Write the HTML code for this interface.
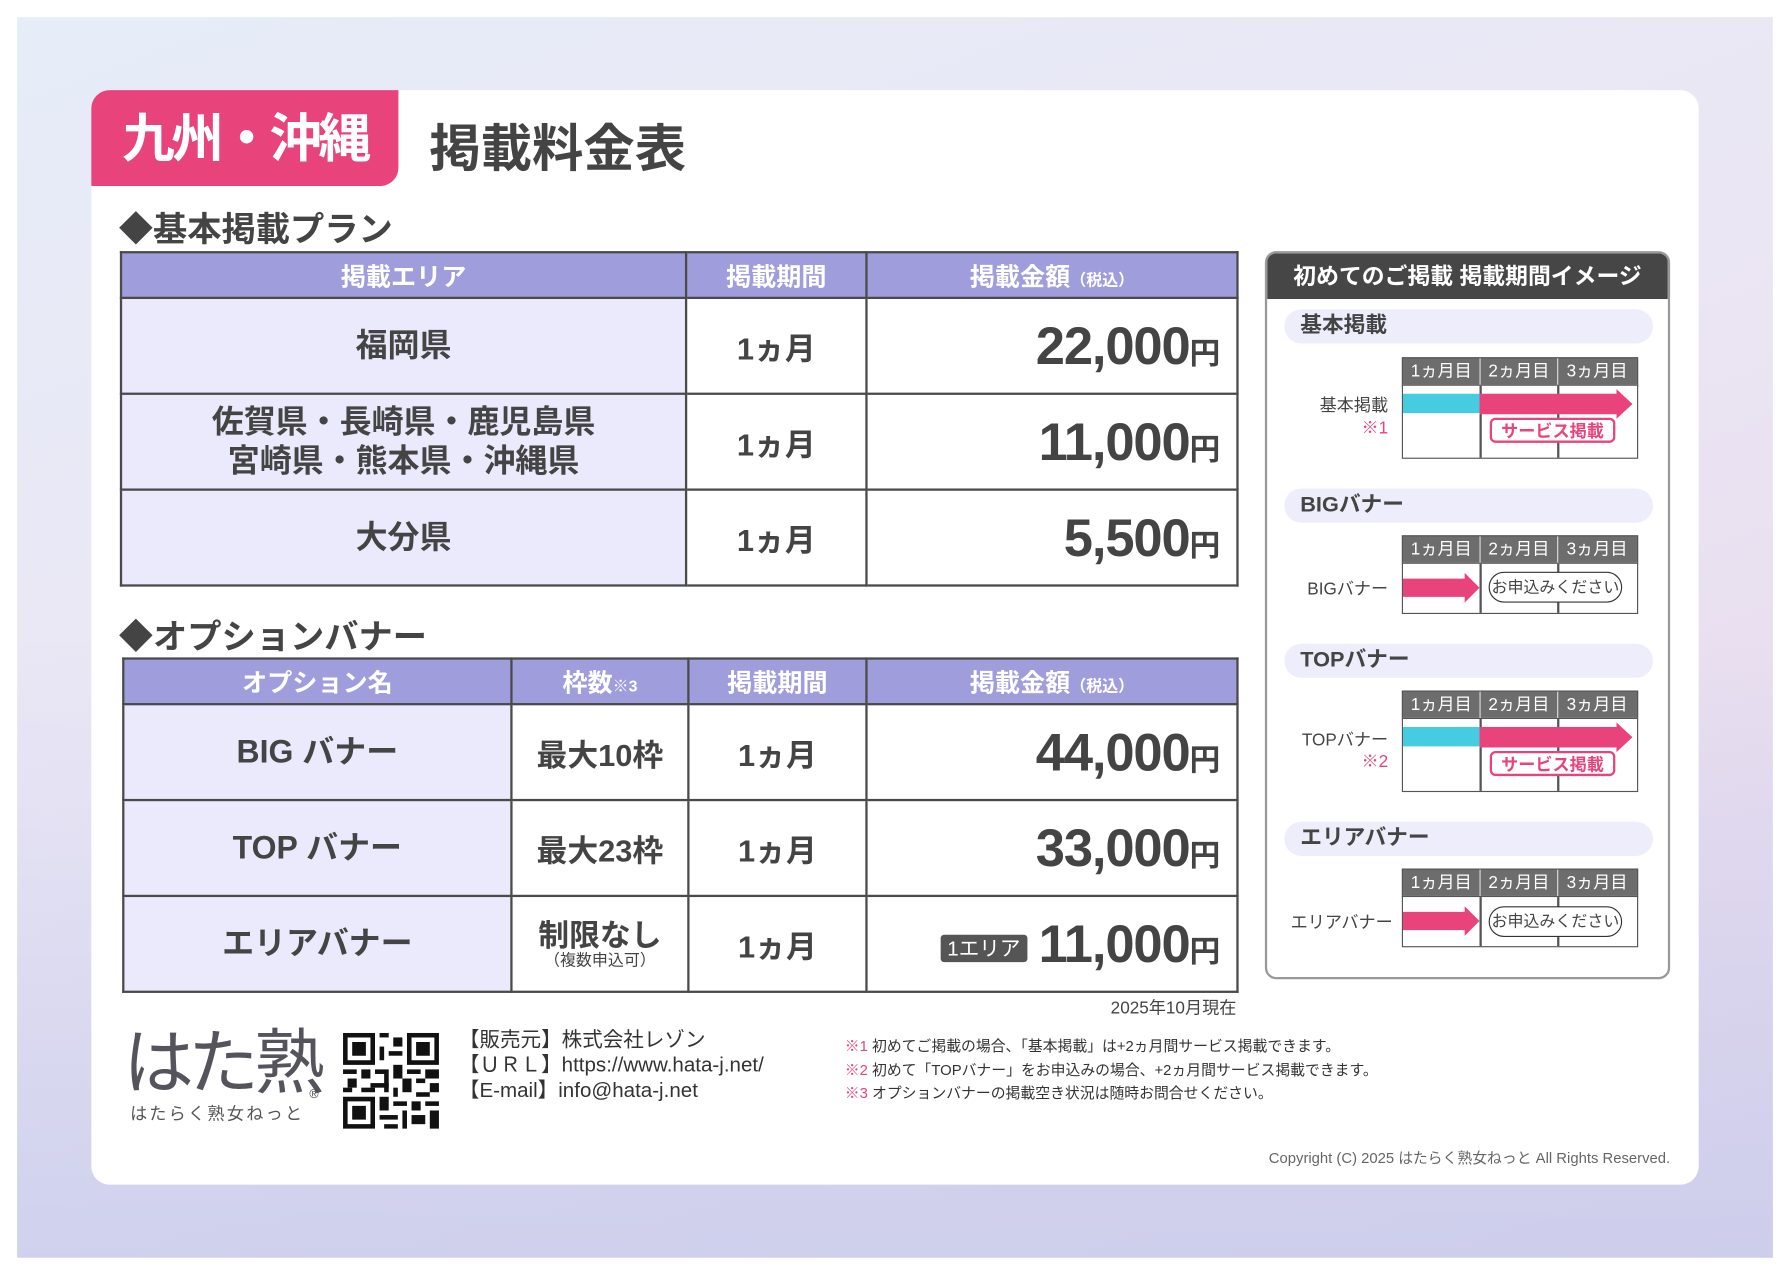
<!DOCTYPE html>
<html><head><meta charset="utf-8"><style>
html,body{margin:0;padding:0;width:1790px;height:1276px;overflow:hidden;background:#fff}
#w{position:absolute;left:0;top:0;width:1568px;height:1118px;transform:scale(1.14158,1.1413);transform-origin:0 0;font-family:"Liberation Sans","Noto Sans CJK JP",sans-serif;color:#444}
.a{position:absolute}
.bg{left:15px;top:15px;width:1538px;height:1087px;background:linear-gradient(160deg,#e6ecf8 0%,#ebe6f4 45%,#e8dcee 75%,#e3d6ec 100%)}
.bg2{left:15px;top:15px;width:1538px;height:1087px;background:linear-gradient(0deg,rgba(190,200,236,.6) 0%,rgba(220,224,245,0) 50%)}
.card{left:80px;top:79px;width:1408px;height:959px;background:#fff;border-radius:16px}
.tab{left:80px;top:79px;width:269px;height:84px;background:#e8437a;border-radius:16px 0 16px 0;color:#fff;font-weight:bold;font-size:46px;line-height:84px;text-align:center;letter-spacing:-3px}
.b{font-weight:bold}
table{position:absolute;border-collapse:collapse;table-layout:fixed}
td{border:2px solid #4a4a4a;text-align:center;padding:0;font-weight:bold;color:#444}
tr.h td{background:#a09ddd;color:#fff;font-size:22px;height:38px;border-color:#4a4a4a}
td.l{background:#ebe9fc;font-size:28px;line-height:34px}
td.p{font-size:27px}
td.m{text-align:right;padding-right:14px;font-size:46px;letter-spacing:-1px}
td.m span{font-size:27px;letter-spacing:0}
small{font-size:14px}
.pill{left:1125px;width:323px;height:30px;background:#eeedfc;border-radius:15px;font-weight:bold;font-size:19px;line-height:30px;text-indent:14px}
.gh{width:205px;height:24px;background:#6d6d6d;border:1px solid #555}
.gh div{position:absolute;top:0;width:68px;height:24px;color:#fff;font-size:15px;line-height:24px;text-align:center;border-right:1px solid #ddd;box-sizing:border-box}
.gb{border:1.5px solid #555;background:#fff;box-sizing:border-box;width:207px}
.vl{position:absolute;top:0;bottom:0;width:1.5px;background:#555}
.lab{font-size:15px;text-align:right;width:120px}
.svc{width:110px;height:22px;border:2px solid #e8437a;border-radius:5px;color:#e8437a;font-size:15px;line-height:22px;text-align:center;box-sizing:border-box;background:#fff;font-weight:bold}
.ap{width:117px;height:27px;border:1.5px solid #333;border-radius:14px;font-size:14px;line-height:24px;text-align:center;box-sizing:border-box;background:#fff}
.pk{color:#e8437a}
</style></head><body><div id="w">
<div class="a bg"></div><div class="a bg2"></div>
<div class="a card"></div>
<div class="a tab">九州・沖縄</div>
<div class="a b" style="left:376px;top:94px;font-size:45px;color:#444">掲載料金表</div>
<div class="a" style="left:104px;top:176px;font-size:30px;font-weight:bold;color:#444">◆基本掲載プラン</div>
<table style="left:105px;top:220px;width:978px">
<colgroup><col style="width:495px"><col style="width:158px"><col style="width:325px"></colgroup>
<tr class="h"><td>掲載エリア</td><td>掲載期間</td><td>掲載金額<small>（税込）</small></td></tr>
<tr style="height:84px"><td class="l">福岡県</td><td class="p">1ヵ月</td><td class="m">22,000<span>円</span></td></tr>
<tr style="height:84px"><td class="l">佐賀県・長崎県・鹿児島県<br>宮崎県・熊本県・沖縄県</td><td class="p">1ヵ月</td><td class="m">11,000<span>円</span></td></tr>
<tr style="height:84px"><td class="l">大分県</td><td class="p">1ヵ月</td><td class="m">5,500<span>円</span></td></tr>
</table>
<div class="a" style="left:104px;top:533px;font-size:30px;font-weight:bold;color:#444">◆オプションバナー</div>
<table style="left:107px;top:576px;width:976px">
<colgroup><col style="width:340px"><col style="width:155px"><col style="width:156px"><col style="width:325px"></colgroup>
<tr class="h"><td>オプション名</td><td>枠数<small>※3</small></td><td>掲載期間</td><td>掲載金額<small>（税込）</small></td></tr>
<tr style="height:84px"><td class="l">BIG バナー</td><td class="p">最大10枠</td><td class="p">1ヵ月</td><td class="m">44,000<span>円</span></td></tr>
<tr style="height:84px"><td class="l">TOP バナー</td><td class="p">最大23枠</td><td class="p">1ヵ月</td><td class="m">33,000<span>円</span></td></tr>
<tr style="height:84px"><td class="l">エリアバナー</td><td class="p" style="line-height:28px">制限なし<br><span style="font-size:14px;font-weight:normal;display:block;line-height:14px">（複数申込可）</span></td><td class="p">1ヵ月</td><td class="m"><b style="display:inline-block;background:#555;color:#fff;font-size:18px;line-height:24px;padding:0 6px;border-radius:3px;vertical-align:middle;margin-right:10px;font-weight:normal;letter-spacing:0">1エリア</b>11,000<span>円</span></td></tr>
</table>
<div class="a" style="left:900px;top:872px;width:183px;text-align:right;font-size:15px">2025年10月現在</div>
<div class="a" style="left:108px;top:893px;font-size:62px;color:#55545c;letter-spacing:-4px;line-height:80px">はた熟</div>
<div class="a" style="left:114px;top:965px;font-size:15px;color:#555;letter-spacing:2px">はたらく熟女ねっと</div>
<div class="a" style="left:271px;top:953px;font-size:11px">®</div>
<svg class="a" style="left:300px;top:905px" width="85" height="84" viewBox="0 0 21 21">
<rect width="21" height="21" fill="#fff"/>
<g fill="#111">
<path d="M0 0h7v7h-7zM1 1v5h5v-5zM2 2h3v3h-3z" fill-rule="evenodd"/>
<path d="M14 0h7v7h-7zM15 1v5h5v-5zM16 2h3v3h-3z" fill-rule="evenodd"/>
<path d="M0 14h7v7h-7zM1 15v5h5v-5zM2 16h3v3h-3z" fill-rule="evenodd"/>
<rect x="8" y="0" width="2" height="1"/><rect x="11" y="1" width="2" height="2"/><rect x="8" y="3" width="1" height="3"/><rect x="10" y="4" width="3" height="1"/>
<rect x="0" y="8" width="3" height="1"/><rect x="4" y="8" width="2" height="2"/><rect x="7" y="8" width="3" height="1"/><rect x="11" y="7" width="2" height="3"/><rect x="14" y="8" width="3" height="1"/><rect x="18" y="8" width="3" height="2"/>
<rect x="1" y="10" width="2" height="2"/><rect x="6" y="11" width="4" height="1"/><rect x="9" y="9" width="1" height="4"/><rect x="13" y="10" width="2" height="3"/><rect x="16" y="10" width="2" height="1"/><rect x="19" y="11" width="2" height="2"/>
<rect x="0" y="12" width="2" height="1"/><rect x="4" y="12" width="3" height="1"/><rect x="11" y="12" width="1" height="2"/><rect x="16" y="13" width="3" height="1"/>
<rect x="8" y="14" width="2" height="3"/><rect x="11" y="15" width="3" height="1"/><rect x="15" y="15" width="2" height="2"/><rect x="18" y="15" width="3" height="1"/>
<rect x="8" y="18" width="4" height="1"/><rect x="13" y="17" width="1" height="4"/><rect x="15" y="18" width="3" height="2"/><rect x="19" y="17" width="2" height="4"/><rect x="9" y="20" width="3" height="1"/>
</g></svg>
<div class="a" style="left:402px;top:900px;font-size:18px;line-height:22px;color:#333">【販売元】株式会社レゾン<br>【ＵＲＬ】https://www.hata-j.net/<br>【E-mail】info@hata-j.net</div>
<div class="a" style="left:740px;top:907px;font-size:13px;line-height:20.5px;color:#333"><span class="pk">※1</span> 初めてご掲載の場合、「基本掲載」は+2ヵ月間サービス掲載できます。<br><span class="pk">※2</span> 初めて「TOPバナー」をお申込みの場合、+2ヵ月間サービス掲載できます。<br><span class="pk">※3</span> オプションバナーの掲載空き状況は随時お問合せください。</div>
<div class="a" style="left:1000px;top:1004px;font-size:13px;color:#666;width:463px;text-align:right">Copyright (C) 2025 はたらく熟女ねっと All Rights Reserved.</div>

<div class="a" style="left:1108px;top:220px;width:355px;height:638px;border:2px solid #999;border-radius:10px;box-sizing:border-box;background:#fff;overflow:hidden">
<div style="height:40px;background:#464646;color:#fff;font-size:20px;line-height:42px;text-align:center;font-weight:bold">初めてのご掲載 掲載期間イメージ</div></div>
<div class="a pill" style="top:271px">基本掲載</div>
<div class="a pill" style="top:428px">BIGバナー</div>
<div class="a pill" style="top:564px">TOPバナー</div>
<div class="a pill" style="top:720px">エリアバナー</div>

<div class="a gh" style="left:1228px;top:313px"><div style="left:0">1ヵ月目</div><div style="left:68px">2ヵ月目</div><div style="left:136px;border:0">3ヵ月目</div></div>
<div class="a gb" style="left:1228px;top:337px;height:65px"><div class="vl" style="left:67px"></div><div class="vl" style="left:135px"></div></div>
<div class="a" style="left:1229px;top:345px;width:68px;height:17px;background:#45cce0"></div>
<svg class="a" style="left:1296px;top:341px" width="136" height="26"><path d="M0 4H120V0L134 13L120 26V22H0Z" fill="#e8437a"/></svg>
<div class="a svc" style="left:1305px;top:366px">サービス掲載</div>
<div class="a lab" style="left:1096px;top:344px">基本掲載</div>
<div class="a lab pk" style="left:1096px;top:364px">※1</div>

<div class="a gh" style="left:1228px;top:469px"><div style="left:0">1ヵ月目</div><div style="left:68px">2ヵ月目</div><div style="left:136px;border:0">3ヵ月目</div></div>
<div class="a gb" style="left:1228px;top:493px;height:45px"><div class="vl" style="left:67px"></div><div class="vl" style="left:135px"></div></div>
<svg class="a" style="left:1229px;top:502px" width="68" height="26"><path d="M0 5H54V0L67 13L54 26V21H0Z" fill="#e8437a"/></svg>
<div class="a ap" style="left:1304px;top:501px">お申込みください</div>
<div class="a lab" style="left:1096px;top:505px">BIGバナー</div>

<div class="a gh" style="left:1228px;top:605px"><div style="left:0">1ヵ月目</div><div style="left:68px">2ヵ月目</div><div style="left:136px;border:0">3ヵ月目</div></div>
<div class="a gb" style="left:1228px;top:629px;height:65px"><div class="vl" style="left:67px"></div><div class="vl" style="left:135px"></div></div>
<div class="a" style="left:1229px;top:637px;width:68px;height:17px;background:#45cce0"></div>
<svg class="a" style="left:1296px;top:633px" width="136" height="26"><path d="M0 4H120V0L134 13L120 26V22H0Z" fill="#e8437a"/></svg>
<div class="a svc" style="left:1305px;top:658px">サービス掲載</div>
<div class="a lab" style="left:1096px;top:637px">TOPバナー</div>
<div class="a lab pk" style="left:1096px;top:656px">※2</div>

<div class="a gh" style="left:1228px;top:761px"><div style="left:0">1ヵ月目</div><div style="left:68px">2ヵ月目</div><div style="left:136px;border:0">3ヵ月目</div></div>
<div class="a gb" style="left:1228px;top:785px;height:45px"><div class="vl" style="left:67px"></div><div class="vl" style="left:135px"></div></div>
<svg class="a" style="left:1229px;top:794px" width="68" height="26"><path d="M0 5H54V0L67 13L54 26V21H0Z" fill="#e8437a"/></svg>
<div class="a ap" style="left:1304px;top:794px">お申込みください</div>
<div class="a lab" style="left:1100px;top:797px">エリアバナー</div>
</div></body></html>
